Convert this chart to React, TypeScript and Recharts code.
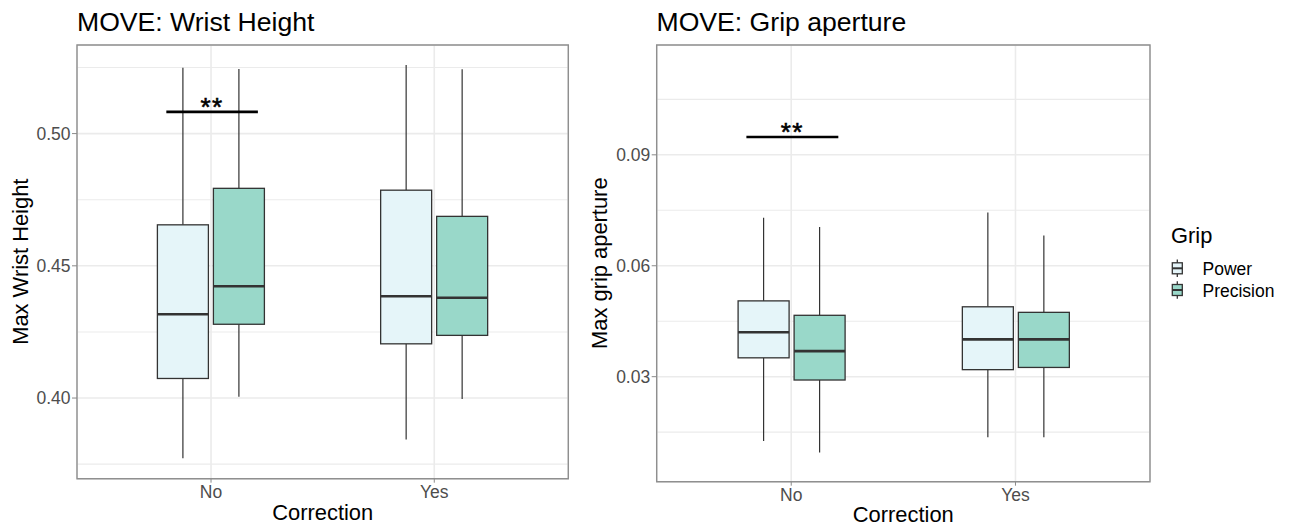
import React from 'react';
import {
  ComposedChart,
  Bar,
  Scatter,
  XAxis,
  YAxis,
  CartesianGrid,
  ReferenceArea,
  Legend,
} from 'recharts';

// Categories and groups
const corrections = ['No', 'Yes'];
const gripNames = ['Power', 'Precision'];
const gripFills = ['#E5F5F9', '#99D8C9'];

// Five-number summaries per correction level: [min, q1, median, q3, max]
const wristPower = [
  [0.3772, 0.4074, 0.4317, 0.4655, 0.5249],
  [0.3843, 0.4205, 0.4385, 0.4786, 0.5259],
];
const wristPrecision = [
  [0.4005, 0.4279, 0.4423, 0.4793, 0.5244],
  [0.3996, 0.4237, 0.4379, 0.4687, 0.5243],
];
const gripPower = [
  [0.0126, 0.0351, 0.042, 0.0505, 0.073],
  [0.0136, 0.0319, 0.0401, 0.0489, 0.0744],
];
const gripPrecision = [
  [0.0095, 0.0291, 0.0369, 0.0466, 0.0705],
  [0.0136, 0.0325, 0.0401, 0.0474, 0.0682],
];

// Axis settings
const wristDomain = [0.3695, 0.5335];
const wristTicks = [0.4, 0.45, 0.5];
const wristMinor = [0.375, 0.425, 0.475, 0.525];
const gripDomain = [0.0016, 0.1197];
const gripTicks = [0.03, 0.06, 0.09];
const gripMinor = [0.015, 0.045, 0.075, 0.105];

// Significance brackets (x on the continuous 1..2 position scale)
const wristSignif = { from: 0.8, to: 1.21, y: 0.5082, label: '**' };
const gripSignif = { from: 0.8, to: 1.21, y: 0.0948, label: '**' };

const FONT = '"Liberation Sans", Arial, Helvetica, sans-serif';
const INK = '#333333';
const GRID = '#ebebeb';
const FRAME = '#8f8f8f';

const buildRows = (power: number[][], precision: number[][]) =>
  corrections.map((c, i) => ({ correction: c, Power: power[i], Precision: precision[i] }));

// whisker extent [min, max] of a group, used as the bar's range value
const whiskerRange = (key: string) => (d: any) => {
  const s = d && d[key];
  return Array.isArray(s) ? [s[0], s[4]] : null;
};

function BoxGlyph(props: any) {
  const { x, y, width, height, fill, payload, statKey } = props;
  const s: number[] | undefined = payload && payload[statKey];
  if (!s || x == null || y == null) return <g />;
  const [lo, q1, med, q3, hi] = s;
  // linear position inside the bar's whisker range
  const yOf = (v: number) => y + ((hi - v) / (hi - lo)) * height;
  const cx = x + width / 2;
  return (
    <g>
      <line x1={cx} x2={cx} y1={yOf(hi)} y2={yOf(q3)} stroke={INK} strokeWidth={1.2} />
      <line x1={cx} x2={cx} y1={yOf(q1)} y2={yOf(lo)} stroke={INK} strokeWidth={1.2} />
      <rect
        x={x}
        y={yOf(q3)}
        width={width}
        height={yOf(q1) - yOf(q3)}
        fill={fill}
        stroke={INK}
        strokeWidth={1.3}
      />
      <line x1={x} x2={x + width} y1={yOf(med)} y2={yOf(med)} stroke={INK} strokeWidth={2.6} />
    </g>
  );
}

// Stars drawn just above the bracket point
function StarsMark(props: any) {
  const { cx, cy, payload } = props;
  if (cx == null || cy == null || !payload) return <g />;
  return (
    <text
      x={cx}
      y={cy + 4}
      textAnchor="middle"
      fontSize={26}
      letterSpacing={1.5}
      stroke="#000"
      strokeWidth={0.6}
      fill="#000"
    >
      {payload.label}
    </text>
  );
}

const NoMark = () => <g />;

function LegendBox(props: any) {
  const payload = (props.payload || []).filter((e: any) => gripNames.includes(e.value));
  return (
    <svg width={121} height={84} style={{ fontFamily: FONT, overflow: 'visible' }}>
      <text x={6} y={23.3} fontSize={21.9} fill="#000">
        Grip
      </text>
      {payload.map((entry: any, i: number) => {
        const cy = 48.3 + i * 21.7;
        return (
          <g key={entry.value}>
            <line x1={12.3} x2={12.3} y1={cy - 8.7} y2={cy + 8.7} stroke={INK} strokeWidth={1.3} />
            <rect x={7.3} y={cy - 5.5} width={10} height={11} fill={entry.color} stroke={INK} strokeWidth={1.3} />
            <line x1={7.3} x2={17.3} y1={cy} y2={cy} stroke={INK} strokeWidth={2} />
            <text x={37.5} y={cy + 6.6} fontSize={17.5} fill="#000">
              {entry.value}
            </text>
          </g>
        );
      })}
    </svg>
  );
}

type PanelProps = {
  left: number;
  width: number;
  margin: { top: number; right: number; bottom: number; left: number };
  yWidth: number;
  power: number[][];
  precision: number[][];
  domain: number[];
  ticks: number[];
  minor: number[];
  signif: { from: number; to: number; y: number; label: string };
  withLegend?: boolean;
};

function Panel(p: PanelProps) {
  const rows = buildRows(p.power, p.precision);
  const bracket = [
    { x: p.signif.from, y: p.signif.y },
    { x: p.signif.to, y: p.signif.y },
  ];
  const stars = [{ x: (p.signif.from + p.signif.to) / 2, y: p.signif.y, label: p.signif.label }];
  return (
    <div style={{ position: 'absolute', left: p.left, top: 0 }}>
      <ComposedChart width={p.width} height={526} data={rows} margin={p.margin} barSize={51} barGap={5}>
        <CartesianGrid stroke={GRID} strokeWidth={1.6} />
        <CartesianGrid stroke={GRID} strokeWidth={1.1} vertical={false} horizontalValues={p.minor} />
        <XAxis
          dataKey="correction"
          type="category"
          padding={{ left: 22.4, right: 22.4 }}
          axisLine={false}
          tickLine={{ stroke: '#8a8a8a' }}
          tickSize={4}
          tickMargin={3.3}
          height={40}
          tick={{ fontSize: 17.5, fill: '#4d4d4d' }}
        />
        <XAxis xAxisId="num" dataKey="x" type="number" domain={[0.4, 2.6]} hide allowDataOverflow />
        <YAxis
          type="number"
          domain={p.domain}
          allowDataOverflow
          ticks={p.ticks}
          width={p.yWidth}
          axisLine={false}
          tickLine={{ stroke: '#8a8a8a' }}
          tickSize={5}
          tickMargin={1.5}
          tick={{ fontSize: 17.5, fill: '#4d4d4d' }}
          tickFormatter={(v: number) => v.toFixed(2)}
        />
        <Bar
          name={gripNames[0]}
          dataKey={whiskerRange('Power')}
          fill={gripFills[0]}
          isAnimationActive={false}
          shape={(sp: any) => <BoxGlyph {...sp} statKey="Power" />}
        />
        <Bar
          name={gripNames[1]}
          dataKey={whiskerRange('Precision')}
          fill={gripFills[1]}
          isAnimationActive={false}
          shape={(sp: any) => <BoxGlyph {...sp} statKey="Precision" />}
        />
        <Scatter
          xAxisId="num"
          data={bracket}
          dataKey="y"
          line={{ stroke: '#000', strokeWidth: 2.6 }}
          lineType="joint"
          shape={NoMark}
          legendType="none"
          isAnimationActive={false}
        />
        <Scatter
          xAxisId="num"
          data={stars}
          dataKey="y"
          shape={StarsMark}
          legendType="none"
          isAnimationActive={false}
        />
        <ReferenceArea
          xAxisId="num"
          x1={0.4}
          x2={2.6}
          y1={p.domain[0]}
          y2={p.domain[1]}
          fill="none"
          fillOpacity={0}
          stroke={FRAME}
          strokeWidth={1.4}
        />
        {p.withLegend && (
          <Legend
            layout="horizontal"
            align="center"
            verticalAlign="middle"
            content={(lp: any) => <LegendBox {...lp} />}
            wrapperStyle={{ left: 585, top: 220, width: 121, height: 84 }}
          />
        )}
      </ComposedChart>
    </div>
  );
}

export default function App() {
  return (
    <div
      style={{
        position: 'absolute',
        left: 0,
        top: 0,
        width: 1291,
        height: 526,
        background: '#fff',
        fontFamily: FONT,
        overflow: 'hidden',
      }}
    >
      <Panel
        left={0}
        width={580}
        margin={{ top: 45, right: 11.7, bottom: 7.3, left: 0 }}
        yWidth={77}
        power={wristPower}
        precision={wristPrecision}
        domain={wristDomain}
        ticks={wristTicks}
        minor={wristMinor}
        signif={wristSignif}
      />
      <Panel
        left={580}
        width={711}
        margin={{ top: 45, right: 141, bottom: 4.3, left: 0 }}
        yWidth={76.7}
        power={gripPower}
        precision={gripPrecision}
        domain={gripDomain}
        ticks={gripTicks}
        minor={gripMinor}
        signif={gripSignif}
        withLegend
      />
      <svg
        width={1291}
        height={526}
        style={{ position: 'absolute', left: 0, top: 0, pointerEvents: 'none', fontFamily: FONT }}
      >
        <text x={77} y={31} fontSize={26.6} fill="#000">
          MOVE: Wrist Height
        </text>
        <text x={656.5} y={31} fontSize={26.6} fill="#000">
          MOVE: Grip aperture
        </text>
        <text transform="translate(28,261.7) rotate(-90)" textAnchor="middle" fontSize={21.9} fill="#000">
          Max Wrist Height
        </text>
        <text transform="translate(606.5,263.2) rotate(-90)" textAnchor="middle" fontSize={21.9} fill="#000">
          Max grip aperture
        </text>
        <text x={322.7} y={520} textAnchor="middle" fontSize={21.9} fill="#000">
          Correction
        </text>
        <text x={903.3} y={521.8} textAnchor="middle" fontSize={21.9} fill="#000">
          Correction
        </text>
      </svg>
    </div>
  );
}
